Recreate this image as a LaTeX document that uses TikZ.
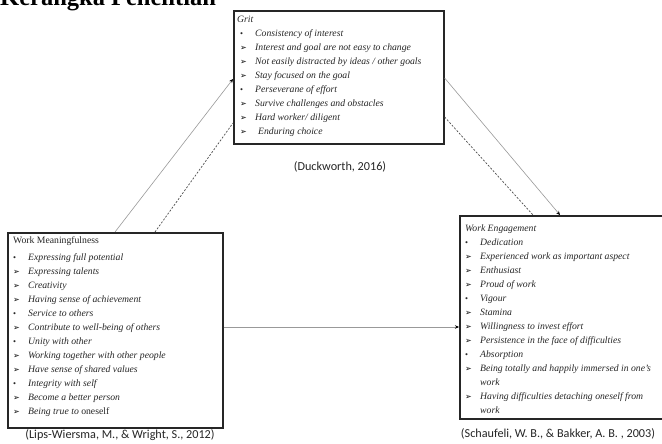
\documentclass[tikz,border=0pt]{standalone}
\usepackage{fontspec}
\setmainfont{Liberation Serif}
\newfontfamily\citefnt{Carlito}
\newfontfamily\dvs{DejaVu Sans}
\usetikzlibrary{arrows.meta}
\newcommand\xbu{\makebox[15pt][l]{\upshape\fontsize{8.5}{9}\selectfont\textbullet}}
\newcommand\xar{\makebox[15pt][l]{\color{black}\dvs\fontsize{8}{9}\selectfont ➢}}
\newcommand\xno{\hspace{15pt}}
\tikzset{
  box/.style={draw=black!85, line width=1.6pt, inner sep=0pt, anchor=north west},
  itemtxt/.style={inner sep=0pt, anchor=base west, text=black!85, font=\fontsize{9.7}{11}\selectfont\itshape},
  cite/.style={inner sep=0pt, text=black!85, font=\citefnt\fontsize{12.2}{14}\selectfont},
  solidln/.style={draw=black!40, line width=0.6pt},
  dashln/.style={draw=black!70, line width=0.7pt, dash pattern=on 2pt off 1.6pt},
  tip/.style={-{Stealth[length=4pt,width=3.5pt,color=black]}}
}
\begin{document}
\begin{tikzpicture}[x=1pt,y=-1pt]
\useasboundingbox (0,0) rectangle (662,444);
\fill[white] (0,0) rectangle (662,444);
% title cut off at top
\node[inner sep=0pt, anchor=base west, font=\fontsize{24.5}{26}\selectfont\bfseries] (title) at (0,6) {Kerangka Penelitian};
% boxes
\node[box, minimum width=210pt, minimum height=133pt] (grit) at (233,10) {};
\node[box, minimum width=215pt, minimum height=195pt] (wm) at (7,232) {};
\node[box, minimum width=210pt, minimum height=203pt] (we) at (459,215) {};
% Grit text
\node[itemtxt] (gt) at (237,23) {Grit};
\foreach \t [count=\i] in {{\xbu Consistency of interest},{\xar Interest and goal are not easy to change},{\xar Not easily distracted by ideas / other goals},{\xar Stay focused on the goal},{\xbu Perseverane of effort},{\xar Survive challenges and obstacles},{\xar Hard worker/ diligent},{\xar \hspace{3pt}Enduring choice}}
  \node[itemtxt] (g\i) at (240,23+13.9*\i) {\t};
% Work Meaningfulness text
\node[itemtxt, font=\fontsize{9.7}{11}\selectfont\upshape] (wmt) at (13,243) {Work Meaningfulness};
\foreach \t [count=\i] in {{\xbu Expressing full potential},{\xar Expressing talents},{\xar Creativity},{\xar Having sense of achievement},{\xbu Service to others},{\xar Contribute to well-being of others},{\xbu Unity with other},{\xar Working together with other people},{\xar Have sense of shared values},{\xbu Integrity with self},{\xar Become a better person},{\xar Being true to \textup{oneself}}}
  \node[itemtxt] (m\i) at (13,246+14*\i) {\t};
% Work Engagement text
\node[itemtxt] (wet) at (465,231) {Work Engagement};
\foreach \t [count=\i] in {{\xbu Dedication},{\xar Experienced work as important aspect},{\xar Enthusiast},{\xar Proud of work},{\xbu Vigour},{\xar Stamina},{\xar Willingness to invest effort},{\xar Persistence in the face of difficulties},{\xbu Absorption},{\xar Being totally and happily immersed in one’s},{\xno work},{\xar Having difficulties detaching oneself from},{\xno work}}
  \node[itemtxt] (e\i) at (465,231+14*\i) {\t};
% citations
\node[cite] (c1) at (340,167) {(Duckworth, 2016)};
\node[cite] (c2) at (120,435) {(Lips-Wiersma, M., \& Wright, S., 2012)};
\node[cite] (c3) at (558,434) {(Schaufeli, W. B., \& Bakker, A. B. , 2003)};
% connectors
\draw[solidln, tip] ([xshift=108pt]wm.north west) -- ([yshift=-69pt]grit.north west);
\draw[dashln] ([xshift=148pt]wm.north west) -- ([yshift=-113pt]grit.north west);
\draw[solidln, tip] ([yshift=-68pt]grit.north east) -- ([xshift=101pt]we.north west);
\draw[dashln] ([yshift=-107pt]grit.north east) -- ([xshift=74pt]we.north west);
\draw[solidln, tip] ([yshift=-95pt]wm.north east) -- ([yshift=-112pt]we.north west);
\end{tikzpicture}
\end{document}
